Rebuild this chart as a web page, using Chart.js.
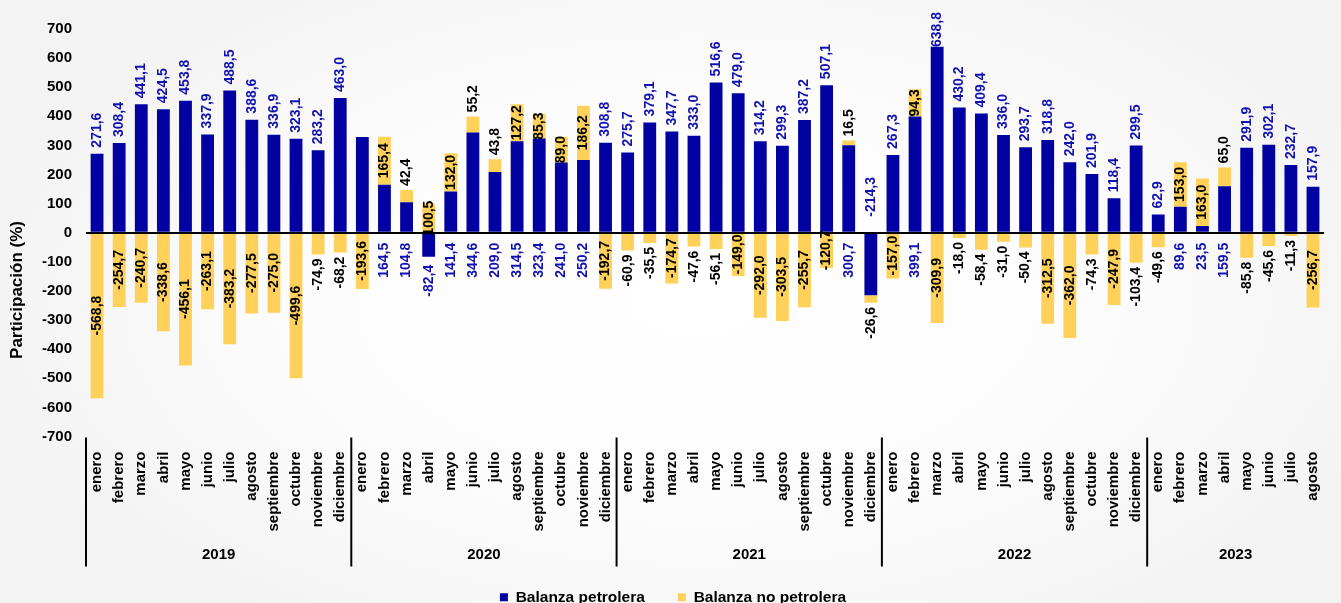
<!DOCTYPE html>
<html lang="es">
<head>
<meta charset="utf-8">
<title>Balanza petrolera y no petrolera</title>
<script src="https://cdn.jsdelivr.net/npm/chart.js@4.4.1/dist/chart.umd.min.js"></script>
<style>
  html, body { margin: 0; padding: 0; overflow: hidden; }
  body {
    width: 1341px;
    height: 603px;
    background: radial-gradient(ellipse 55% 65% at 52% 50%, #ffffff 0%, #fcfcfc 55%, #f3f3f3 100%);
  }
  #wrap { position: relative; width: 1346px; height: 615px; }
</style>
</head>
<body>
<div id="wrap"><canvas id="balanza"></canvas></div>
<script>
const years = ['2019', '2020', '2021', '2022', '2023']
const monthsPerYear = [12, 12, 12, 12, 8]
const monthNames = ['enero', 'febrero', 'marzo', 'abril', 'mayo', 'junio', 'julio',
  'agosto', 'septiembre', 'octubre', 'noviembre', 'diciembre']

// Balanza petrolera (azul)
const petrolera = [
  271.6, 308.4, 441.1, 424.5, 453.8, 337.9, 488.5, 388.6, 336.9, 323.1, 283.2, 463.0,
  329.0, 164.5, 104.8, -82.4, 141.4, 344.6, 209.0, 314.5, 323.4, 241.0, 250.2, 308.8,
  275.7, 379.1, 347.7, 333.0, 516.6, 479.0, 314.2, 299.3, 387.2, 507.1, 300.7, -214.3,
  267.3, 399.1, 638.8, 430.2, 409.4, 336.0, 293.7, 318.8, 242.0, 201.9, 118.4, 299.5,
  62.9, 89.6, 23.5, 159.5, 291.9, 302.1, 232.7, 157.9
]

// Balanza no petrolera (amarillo)
const noPetrolera = [
  -568.8, -254.7, -240.7, -338.6, -456.1, -263.1, -383.2, -277.5, -275.0, -499.6, -74.9, -68.2,
  -193.6, 165.4, 42.4, 100.5, 132.0, 55.2, 43.8, 127.2, 85.3, 89.0, 186.2, -192.7,
  -60.9, -35.5, -174.7, -47.6, -56.1, -149.0, -292.0, -303.5, -255.7, -120.7, 16.5, -26.6,
  -157.0, 94.3, -309.9, -18.0, -58.4, -31.0, -50.4, -312.5, -362.0, -74.3, -247.9, -103.4,
  -49.6, 153.0, 163.0, 65.0, -85.8, -45.6, -11.3, -256.7
]

// en el original la etiqueta de enero 2020 (petrolera) no aparece
const hiddenPetroleraLabels = [12]

const yMin = -700
const yMax = 700
const yStep = 100

const months = []
monthsPerYear.forEach(n => months.push(...monthNames.slice(0, n)))

const FONT = '"Liberation Sans", Arial, sans-serif'
const BLUE = '#0202a2'
const BLUE_TEXT = '#1212b2'
const YELLOW = '#ffd05a'

const fmt = v => v.toFixed(1).replace('.', ',')

function drawRotated (ctx, text, x, y, align, color) {
  ctx.save()
  ctx.translate(x, y)
  ctx.rotate(-Math.PI / 2)
  ctx.textAlign = align
  ctx.fillStyle = color
  ctx.fillText(text, 0, 0)
  ctx.restore()
}

const barLabels = {
  id: 'barLabels',
  afterDatasetsDraw (chart) {
    const { ctx } = chart
    const y = chart.scales.y
    const bars = chart.getDatasetMeta(0).data
    const zero = y.getPixelForValue(0)
    ctx.save()
    ctx.font = 'bold 14px ' + FONT
    ctx.textBaseline = 'middle'
    petrolera.forEach((b, i) => {
      const n = noPetrolera[i]
      const x = bars[i].x
      const same = (b >= 0) === (n >= 0)

      if (!hiddenPetroleraLabels.includes(i)) {
        const text = fmt(b)
        let py, align
        if (same && b >= 0) { py = zero + 10; align = 'right' }
        else if (same) { py = zero - 16; align = 'left' }
        else if (b >= 0) {
          // que no se salga por arriba
          py = Math.max(y.getPixelForValue(b) - 6, 12 + ctx.measureText(text).width)
          align = 'left'
        } else { py = y.getPixelForValue(b) + 8; align = 'right' }
        drawRotated(ctx, text, x, py, align, BLUE_TEXT)
      }

      const start = same ? b : 0
      const ps = y.getPixelForValue(start)
      const pe = y.getPixelForValue(start + n)
      const text = fmt(n)
      const w = ctx.measureText(text).width
      if (w * 0.8 <= Math.abs(pe - ps)) {
        drawRotated(ctx, text, x, (ps + pe) / 2, 'center', '#000')
      } else if (n >= 0) {
        drawRotated(ctx, text, x, pe - 4, 'left', '#000')
      } else {
        drawRotated(ctx, text, x, pe + 4, 'right', '#000')
      }
    })
    ctx.restore()
  }
}

const yearAxis = {
  id: 'yearAxis',
  afterDraw (chart) {
    const { ctx } = chart
    const x = chart.scales.x
    const half = (x.getPixelForValue(1) - x.getPixelForValue(0)) / 2
    const top = chart.chartArea.bottom + 1
    ctx.save()
    ctx.strokeStyle = '#000'
    ctx.lineWidth = 2
    ctx.fillStyle = '#000'
    ctx.font = 'bold 15px ' + FONT
    ctx.textAlign = 'center'
    ctx.textBaseline = 'middle'
    let first = 0
    years.forEach((yr, k) => {
      const last = first + monthsPerYear[k] - 1
      const left = x.getPixelForValue(first) - half
      ctx.beginPath()
      ctx.moveTo(left, top)
      ctx.lineTo(left, top + 129)
      ctx.stroke()
      const mid = (x.getPixelForValue(first) + x.getPixelForValue(last)) / 2
      ctx.fillText(yr, mid, top + 117)
      first = last + 1
    })

    // título del eje vertical
    ctx.translate(17, 290)
    ctx.rotate(-Math.PI / 2)
    ctx.font = 'bold 17px ' + FONT
    ctx.fillText('Participación (%)', 0, 0)
    ctx.restore()
  }
}

new Chart(document.getElementById('balanza'), {
  type: 'bar',
  data: {
    labels: months,
    datasets: [{
      label: 'Balanza petrolera',
      data: petrolera,
      backgroundColor: BLUE,
      borderWidth: 0,
      barPercentage: 0.58,
      categoryPercentage: 1
    }, {
      label: 'Balanza no petrolera',
      data: noPetrolera,
      backgroundColor: YELLOW,
      borderWidth: 0,
      barPercentage: 0.58,
      categoryPercentage: 1
    }]
  },
  options: {
    responsive: true,
    maintainAspectRatio: false,
    animation: false,
    layout: { padding: { top: 29, left: 0, right: 0, bottom: 0 } },
    scales: {
      x: {
        stacked: true,
        grid: { display: false, drawTicks: false },
        border: { display: false },
        ticks: {
          color: '#000',
          font: { family: FONT, size: 15, weight: 'bold' },
          padding: 15,
          minRotation: 90,
          maxRotation: 90,
          autoSkip: false
        },
        afterFit: s => { s.height = 120 }
      },
      y: {
        stacked: true,
        min: yMin,
        max: yMax,
        grid: {
          drawTicks: false,
          z: 1,
          lineWidth: 2,
          color: c => (c.tick && c.tick.value === 0 ? '#000' : 'rgba(0,0,0,0)')
        },
        border: { display: false },
        ticks: {
          stepSize: yStep,
          color: '#000',
          font: { family: FONT, size: 15, weight: 'bold' },
          padding: 14
        },
        afterFit: s => { s.width = 86 }
      }
    },
    plugins: {
      legend: {
        position: 'bottom',
        labels: {
          boxWidth: 8,
          boxHeight: 8,
          padding: 33,
          color: '#000',
          font: { family: FONT, size: 15.5, weight: 'bold' }
        }
      },
      tooltip: { enabled: false }
    }
  },
  plugins: [barLabels, yearAxis]
})
</script>
</body>
</html>
